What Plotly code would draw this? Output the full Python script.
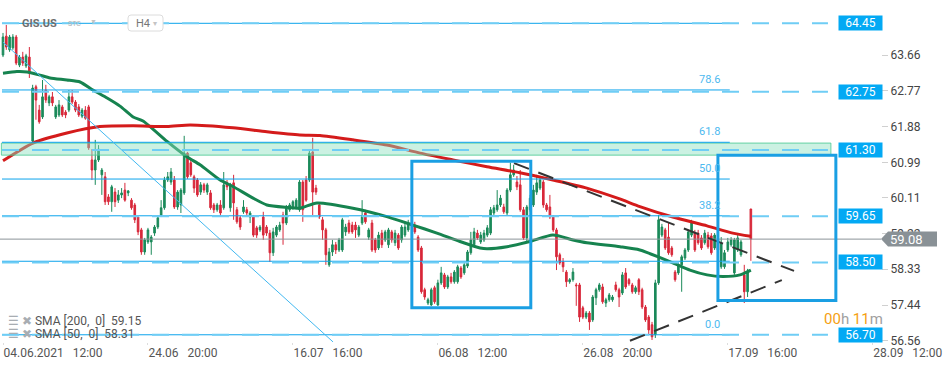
import plotly.graph_objects as go

# ---------------- data ----------------
tick_idx = [0, 44, 88, 132, 176, 220, 264]
NB = "\u00a0\u00a0\u00a0"
tick_text = ["04.06.2021" + NB + "12:00", "24.06" + NB + "20:00", "16.07" + NB + "16:00",
             "06.08" + NB + "12:00", "26.08" + NB + "20:00", "17.09" + NB + "16:00",
             "28.09" + NB + "12:00"]
y_ticks = [56.56, 57.44, 58.33, 59.22, 60.11, 60.99, 61.88, 62.77, 63.66]

opens = [63.66, 64.13, 63.79, 63.84, 64.11, 63.41, 63.61, 63.39, 63.61, 61.52,
         62.87, 62.29, 62.12, 62.79, 62.47, 62.62, 62.12, 62.17, 62.37, 62.24,
         62.29, 62.62, 62.49, 62.37, 62.14, 62.29, 62.37, 61.05, 60.80, 61.05,
         60.68, 60.63, 60.13, 60.01, 60.25, 60.05, 60.18, 60.30, 60.23, 60.05,
         59.93, 59.63, 59.31, 58.76, 59.01, 59.01, 59.23, 59.38, 59.68, 59.86,
         60.55, 60.50, 60.55, 59.88, 59.93, 60.23, 61.22, 60.98, 60.63, 60.55,
         60.25, 60.43, 60.25, 60.23, 59.93, 59.81, 59.93, 59.86, 60.48, 59.86,
         60.48, 59.81, 59.61, 59.76, 59.81, 59.63, 59.63, 59.36, 59.31, 59.63,
         59.38, 59.23, 58.74, 59.18, 59.31, 59.68, 59.48, 59.81, 59.86, 59.88,
         59.81, 60.50, 60.55, 60.55, 61.25, 60.35, 59.93, 59.56, 59.31, 58.44,
         58.76, 58.94, 58.81, 58.81, 59.26, 59.48, 59.43, 59.43, 59.18, 59.48,
         59.73, 59.13, 59.48, 59.06, 58.86, 59.23, 59.06, 58.94, 59.26, 58.99,
         59.18, 59.06, 59.18, 59.31, 59.41, 59.43, 59.13, 58.86, 57.82, 57.49,
         57.44, 57.87, 57.44, 57.99, 58.19, 57.89, 58.14, 58.02, 58.02, 58.36,
         58.24, 58.41, 58.74, 58.94, 59.23, 59.01, 59.06, 59.18, 59.23, 59.73,
         59.81, 59.93, 59.88, 59.73, 60.30, 60.68, 60.50, 60.43, 59.81, 59.11,
         59.81, 59.93, 60.25, 60.35, 60.50, 59.93, 59.88, 59.63, 59.31, 58.69,
         58.51, 58.26, 58.02, 58.07, 57.94, 57.94, 57.37, 57.14, 57.24, 57.07,
         57.62, 57.82, 57.89, 57.49, 57.57, 57.57, 57.94, 57.82, 57.74, 58.24,
         58.07, 57.94, 57.77, 58.07, 57.82, 57.39, 57.14, 56.95, 56.70, 57.99,
         59.18, 59.31, 59.13, 58.86, 58.26, 58.24, 58.44, 58.61, 58.81, 59.18,
         59.23, 59.23, 59.11, 58.99, 59.18, 59.16, 58.86, 59.06, 58.39, 58.39,
         58.81, 58.94, 58.24, 58.81, 58.69, 58.19, 57.77, 59.83]
highs = [64.21, 64.41, 64.16, 64.18, 64.16, 63.66, 63.74, 63.69, 63.86, 62.92,
         62.92, 62.42, 63.04, 62.92, 62.67, 62.74, 62.42, 62.54, 62.42, 62.29,
         62.79, 62.79, 62.54, 62.44, 62.34, 62.39, 62.42, 61.32, 61.55, 61.42,
         60.85, 60.75, 60.20, 60.43, 60.35, 60.30, 60.35, 60.48, 60.30, 60.10,
         59.98, 59.68, 59.36, 59.11, 59.36, 59.18, 59.43, 59.66, 60.05, 60.63,
         60.75, 60.85, 60.65, 60.30, 60.35, 61.65, 61.25, 61.10, 60.68, 60.60,
         60.50, 60.48, 60.48, 60.30, 59.98, 59.98, 60.05, 60.75, 60.55, 60.48,
         60.68, 59.88, 59.66, 60.05, 59.88, 59.78, 59.68, 59.41, 59.43, 59.76,
         59.43, 59.31, 59.36, 59.43, 59.51, 59.76, 59.93, 59.98, 60.05, 60.10,
         60.55, 60.55, 60.65, 61.30, 61.60, 60.43, 59.98, 59.63, 59.36, 58.86,
         59.06, 59.01, 59.11, 59.61, 59.46, 59.56, 59.51, 59.51, 59.43, 60.05,
         59.81, 59.36, 59.56, 59.11, 59.26, 59.31, 59.31, 59.36, 59.31, 59.31,
         59.23, 59.43, 59.48, 59.56, 59.56, 59.51, 59.18, 58.91, 57.87, 57.62,
         57.87, 57.92, 58.07, 58.39, 58.24, 58.19, 58.24, 58.31, 58.44, 58.41,
         58.51, 58.81, 59.26, 59.36, 59.31, 59.26, 59.31, 59.43, 59.88, 59.93,
         60.30, 60.18, 59.96, 60.35, 60.98, 60.93, 60.65, 60.80, 59.88, 59.93,
         60.18, 60.43, 60.68, 60.63, 60.55, 59.98, 60.18, 59.68, 59.36, 58.74,
         58.61, 58.31, 58.11, 58.36, 57.99, 57.99, 57.42, 57.29, 57.29, 57.69,
         57.87, 57.99, 57.97, 57.62, 57.74, 57.69, 58.02, 57.87, 58.26, 58.36,
         58.11, 57.99, 57.92, 58.11, 57.87, 57.44, 57.19, 57.02, 58.07, 59.68,
         59.46, 59.36, 59.48, 58.91, 58.31, 58.51, 58.69, 58.86, 59.31, 59.56,
         59.31, 59.31, 59.18, 59.31, 59.26, 59.23, 59.23, 59.11, 59.13, 58.81,
         59.11, 59.13, 59.11, 59.18, 59.06, 58.44, 58.34, 59.83]
lows = [63.61, 63.79, 63.74, 63.79, 63.41, 63.36, 63.39, 63.34, 63.09, 61.47,
        62.05, 61.95, 62.07, 62.47, 62.39, 62.39, 62.07, 62.12, 62.12, 62.09,
        62.24, 62.44, 62.24, 62.12, 62.09, 62.05, 61.30, 60.55, 60.43, 61.00,
        60.18, 59.93, 59.93, 59.76, 59.88, 59.98, 60.10, 60.01, 60.15, 59.81,
        59.48, 59.18, 58.69, 58.69, 58.96, 58.69, 59.16, 59.33, 59.63, 59.81,
        60.50, 60.43, 59.83, 59.81, 59.73, 60.18, 60.58, 60.63, 60.23, 60.13,
        60.18, 60.23, 60.18, 59.81, 59.73, 59.76, 59.66, 59.81, 60.30, 59.76,
        59.56, 59.46, 59.31, 59.71, 59.66, 59.48, 59.13, 59.11, 59.26, 59.06,
        59.16, 58.51, 58.66, 59.13, 59.26, 58.94, 59.43, 59.76, 59.81, 59.83,
        59.76, 59.51, 60.01, 60.50, 59.68, 60.18, 59.58, 59.06, 58.44, 58.39,
        58.66, 58.71, 58.76, 58.76, 59.16, 59.21, 59.21, 59.11, 59.13, 59.43,
        59.46, 59.06, 58.76, 58.74, 58.81, 58.86, 59.01, 58.86, 58.99, 58.91,
        58.81, 58.99, 59.13, 59.26, 59.33, 59.21, 58.76, 57.72, 57.57, 57.44,
        57.42, 57.47, 57.42, 57.94, 57.84, 57.84, 57.97, 57.97, 57.97, 58.09,
        58.19, 58.36, 58.69, 58.89, 59.06, 58.96, 59.01, 59.13, 59.18, 59.68,
        59.76, 59.88, 59.71, 59.68, 60.25, 60.63, 60.30, 59.76, 59.06, 59.01,
        59.76, 59.88, 60.18, 60.30, 59.86, 59.76, 59.58, 59.26, 58.31, 58.44,
        58.26, 57.89, 57.97, 58.02, 57.42, 57.02, 57.09, 57.09, 56.82, 57.02,
        57.44, 57.77, 57.47, 57.39, 57.52, 57.52, 57.77, 57.39, 57.69, 57.84,
        57.92, 57.72, 57.72, 57.69, 57.34, 57.02, 56.70, 56.57, 56.62, 57.94,
        59.13, 58.81, 58.69, 58.64, 58.02, 58.19, 57.77, 58.56, 58.76, 59.13,
        58.76, 58.94, 58.81, 58.94, 58.84, 58.69, 58.81, 58.61, 58.34, 58.34,
        58.76, 58.89, 58.19, 58.76, 58.64, 57.49, 57.64, 58.54]
closes = [64.11, 63.86, 64.11, 64.11, 63.46, 63.61, 63.46, 63.64, 63.21, 62.84,
          62.54, 62.00, 62.62, 62.54, 62.62, 62.47, 62.37, 62.42, 62.17, 62.17,
          62.62, 62.49, 62.29, 62.17, 62.29, 62.09, 61.35, 60.80, 61.05, 61.32,
          60.80, 60.01, 60.01, 60.38, 60.01, 60.18, 60.23, 60.05, 60.28, 59.86,
          59.56, 59.26, 58.76, 59.06, 59.31, 59.13, 59.38, 59.61, 59.86, 60.55,
          60.63, 60.75, 59.88, 60.25, 60.30, 61.22, 60.63, 60.68, 60.35, 60.18,
          60.43, 60.30, 60.43, 59.86, 59.81, 59.93, 59.73, 60.43, 60.38, 60.43,
          59.98, 59.51, 59.38, 59.88, 59.73, 59.73, 59.18, 59.18, 59.38, 59.18,
          59.23, 58.74, 59.26, 59.38, 59.43, 59.48, 59.86, 59.93, 60.01, 60.05,
          60.50, 59.81, 60.05, 61.22, 60.25, 60.25, 59.63, 59.31, 58.69, 58.76,
          58.94, 58.81, 59.06, 59.56, 59.38, 59.26, 59.26, 59.31, 59.38, 59.63,
          59.51, 59.31, 58.81, 58.81, 59.18, 58.94, 59.26, 59.31, 59.06, 59.23,
          58.86, 59.38, 59.38, 59.48, 59.48, 59.26, 58.81, 57.77, 57.64, 57.57,
          57.82, 57.52, 57.99, 58.24, 57.89, 58.14, 58.02, 58.26, 58.39, 58.14,
          58.44, 58.76, 59.06, 59.26, 59.11, 59.18, 59.23, 59.36, 59.81, 59.86,
          59.93, 60.10, 59.76, 60.30, 60.68, 60.80, 60.38, 59.81, 59.11, 59.88,
          60.10, 60.30, 60.48, 60.55, 59.93, 59.81, 59.63, 59.31, 58.64, 58.49,
          58.39, 58.02, 58.07, 58.26, 57.92, 57.14, 57.14, 57.24, 57.02, 57.64,
          57.82, 57.94, 57.52, 57.57, 57.69, 57.64, 57.82, 57.64, 58.19, 57.89,
          57.97, 57.77, 57.87, 57.77, 57.39, 57.07, 56.82, 56.65, 57.99, 59.56,
          59.38, 58.86, 58.74, 58.69, 58.07, 58.44, 58.64, 58.81, 59.26, 59.51,
          58.81, 58.99, 58.86, 59.23, 58.89, 58.74, 59.18, 58.81, 58.99, 58.74,
          59.01, 59.06, 59.06, 59.11, 59.01, 57.77, 58.26, 59.08]

sma200_x = [0, 9.1, 19.4, 29.4, 39.5, 49.8, 56.8, 69.8, 80.1, 90.1, 96.2, 106.2, 116.5,
            126.6, 136.6, 146.9, 156.9, 166.9, 177.2, 187.2, 193.3, 203.3, 213.7, 221.5, 227]
sma200_y = [61.03, 61.47, 61.72, 61.88, 61.90, 61.88, 61.92, 61.85, 61.75, 61.67, 61.66, 61.55, 61.42,
            61.22, 61.05, 60.88, 60.73, 60.55, 60.35, 60.08, 59.89, 59.63, 59.41, 59.23, 59.15]
sma50_x = [0, 4.2, 7.3, 11.2, 14.3, 19.4, 23.4, 27.3, 31.6, 35.5, 39.5, 42.5, 49.8, 55.8, 59.8,
           65.9, 69.8, 75.9, 80.1, 86.2, 90.1, 95.3, 106.2, 116.5, 124.4, 131.7, 138.7, 144.8,
           146.9, 153, 159.9, 166.9, 173, 177.2, 187.3, 193.3, 203.3, 208.5, 213.7, 218.5, 223.7, 227]
sma50_y = [63.21, 63.25, 63.24, 63.16, 63.09, 63.04, 62.99, 62.79, 62.59, 62.39, 62.12, 62.02, 61.51,
           61.13, 60.93, 60.55, 60.39, 60.10, 59.93, 59.87, 59.85, 59.98, 59.85, 59.64, 59.43, 59.23,
           59.02, 58.86, 58.84, 58.89, 59.02, 59.18, 59.06, 58.99, 58.89, 58.81, 58.49, 58.31, 58.19,
           58.15, 58.19, 58.31]

sma200_last = 59.15
sma50_last = 58.31
last_price = 59.08

fib_low, fib_high = 56.70, 64.45
fib_ratios = [0.0, 23.6, 38.2, 50.0, 61.8, 78.6, 100.0]
fib_shown = ["0.0", "", "38.2", "50.0", "61.8", "78.6", ""]
fib_x = [-0.3, 220.6]

level_prices = [64.45, 62.75, 61.30, 59.65, 58.50, 56.70]
level_x = [-0.3, 250.4]

zone_x = [-0.5, 251.3]
zone_y = [61.17, 61.47]

trend_x = [0, 100.2]
trend_y = [63.98, 56.52]

tri_upper_x = [155.1, 240.1]
tri_upper_y = [60.97, 58.29]
tri_lower_x = [190.3, 236.4]
tri_lower_y = [56.55, 58.06]

box1 = dict(x=[124.1, 160.2], y=[57.37, 61.02])
box2 = dict(x=[217.0, 252.8], y=[57.55, 61.17])

# ---------------- styling / layout constants ----------------
W, H = 950, 367
ML, MR, MT, MB = 0, 69, 0, 25
PW, PH = W - ML - MR, H - MT - MB
Y_RANGE = [56.52, 65.03]
X_RANGE = [-0.91, 266.5]
GREEN = "#1b8a5a"
RED = "#d8283a"
FIB_C = "#0ba3ec"
DASH_C = "#6fcdf5"
BOX_C = "#1a9fe3"
FONT = "Roboto, sans-serif"


def px(xp):
    return xp / PW


def py(yp):
    return 1 - yp / PH


ppu = PH / (Y_RANGE[1] - Y_RANGE[0])

fig = go.Figure()
x_idx = list(range(len(opens)))
fig.add_trace(go.Candlestick(
    x=x_idx, open=opens, high=highs, low=lows, close=closes,
    increasing=dict(line=dict(color=GREEN, width=1), fillcolor=GREEN),
    decreasing=dict(line=dict(color=RED, width=1), fillcolor=RED),
    whiskerwidth=0, showlegend=False, hoverinfo="skip"))
fig.add_trace(go.Scatter(x=sma50_x, y=sma50_y, mode="lines",
                         line=dict(color="#16834f", width=3, shape="spline", smoothing=0.6),
                         showlegend=False, hoverinfo="skip"))
fig.add_trace(go.Scatter(x=sma200_x, y=sma200_y, mode="lines",
                         line=dict(color="#d41b1b", width=3, shape="spline", smoothing=0.6),
                         showlegend=False, hoverinfo="skip"))

shapes = []
# support zone (semi-transparent, above)
shapes.append(dict(type="rect", xref="x", yref="y", x0=zone_x[0], x1=zone_x[1], y0=zone_y[0], y1=zone_y[1],
                   fillcolor="rgba(140,225,190,0.45)", line=dict(color="rgba(70,200,145,0.8)", width=1),
                   layer="above"))
# fib solid lines
for r in fib_ratios:
    v = fib_low + r / 100.0 * (fib_high - fib_low)
    shapes.append(dict(type="line", xref="x", yref="y", x0=fib_x[0], x1=fib_x[1], y0=v, y1=v,
                       line=dict(color=FIB_C, width=1), layer="above"))
# dashed levels
for v in level_prices:
    shapes.append(dict(type="line", xref="x", yref="y", x0=level_x[0], x1=level_x[1], y0=v, y1=v,
                       line=dict(color=DASH_C, width=2, dash="17px,13px"), layer="above"))
# current price line
shapes.append(dict(type="line", xref="paper", yref="y", x0=0, x1=1, y0=last_price, y1=last_price,
                   line=dict(color="#8c9499", width=1), layer="above"))
# trend line
shapes.append(dict(type="line", xref="x", yref="y", x0=trend_x[0], x1=trend_x[1], y0=trend_y[0], y1=trend_y[1],
                   line=dict(color="#42b8f0", width=1), layer="above"))
# triangle lines
for xs, ys in [(tri_upper_x, tri_upper_y), (tri_lower_x, tri_lower_y)]:
    shapes.append(dict(type="line", xref="x", yref="y", x0=xs[0], x1=xs[1], y0=ys[0], y1=ys[1],
                       line=dict(color="#333333", width=2, dash="16px,10px"), layer="above"))
# blue boxes
for b in [box1, box2]:
    shapes.append(dict(type="rect", xref="x", yref="y", x0=b["x"][0], x1=b["x"][1], y0=b["y"][0], y1=b["y"][1],
                       line=dict(color=BOX_C, width=3), fillcolor="rgba(0,0,0,0)", layer="above"))
# gray price tag (arrow + box)
h = 7.5 / ppu
xt, xb, xr = px(881), px(888), px(937)
shapes.append(dict(type="path", xref="paper", yref="y",
                   path=f"M {xt},{last_price} L {xb},{last_price + h} L {xr},{last_price + h} "
                        f"L {xr},{last_price - h} L {xb},{last_price - h} Z",
                   fillcolor="#899196", line=dict(width=0), layer="above"))
# H4 rounded box
x0, x1, y0, y1 = px(128), px(163), py(31), py(15)
rx, ry = px(3), 3 / PH
shapes.append(dict(type="path", xref="paper", yref="paper",
                   path=(f"M {x0 + rx},{y1} L {x1 - rx},{y1} Q {x1},{y1} {x1},{y1 - ry} L {x1},{y0 + ry} "
                         f"Q {x1},{y0} {x1 - rx},{y0} L {x0 + rx},{y0} Q {x0},{y0} {x0},{y0 + ry} "
                         f"L {x0},{y1 - ry} Q {x0},{y1} {x0 + rx},{y1} Z"),
                   fillcolor="white", line=dict(color="#dcdcdc", width=1), layer="above"))

ann = []
# level price boxes
for v in level_prices:
    ann.append(dict(xref="paper", yref="y", x=px(838), y=v, xanchor="left", yanchor="middle",
                    text=f"{v:.2f}", showarrow=False, bgcolor="#03a9f4", width=39, height=10, borderpad=2,
                    font=dict(color="white", size=12, family=FONT)))
# current price text
ann.append(dict(xref="paper", yref="y", x=px(888), y=last_price, xanchor="left", yanchor="middle",
                text=f"{last_price:.2f}", showarrow=False, font=dict(color="white", size=13, family=FONT)))
# fib labels
for r, lab in zip(fib_ratios, fib_shown):
    if not lab:
        continue
    v = fib_low + r / 100.0 * (fib_high - fib_low)
    ann.append(dict(xref="paper", yref="y", x=px(722), y=v, xanchor="right", yanchor="bottom", yshift=2,
                    text=lab, showarrow=False, font=dict(color="#4db9ef", size=11, family=FONT)))
# header
ann.append(dict(xref="paper", yref="paper", x=px(20), y=py(23), xanchor="left", yanchor="middle",
                text="<b>GIS.US</b>", showarrow=False, font=dict(color="#6e6e6e", size=11, family=FONT)))
ann.append(dict(xref="paper", yref="paper", x=px(66), y=py(24), xanchor="left", yanchor="middle",
                text="STC", showarrow=False, font=dict(color="#b0b0b0", size=7, family=FONT)))
ann.append(dict(xref="paper", yref="paper", x=px(88), y=py(22), xanchor="left", yanchor="middle",
                text="▼", showarrow=False, font=dict(color="#c4c4c4", size=7, family=FONT)))
ann.append(dict(xref="paper", yref="paper", x=px(134), y=py(23), xanchor="left", yanchor="middle",
                text="H4", showarrow=False, font=dict(color="#777777", size=11, family=FONT)))
ann.append(dict(xref="paper", yref="paper", x=px(151), y=py(23), xanchor="left", yanchor="middle",
                text="▾", showarrow=False, font=dict(color="#c4c4c4", size=8, family=FONT)))
# indicator legend
icons = '<span style="color:#a8adb2">☰ ✖</span>'
ann.append(dict(xref="paper", yref="paper", x=px(6), y=py(321), xanchor="left", yanchor="middle",
                text=icons + "\u00a0SMA\u00a0[200,\u00a0\u00a00]\u00a0\u00a0" + f"{sma200_last:.2f}",
                showarrow=False, font=dict(color="#555555", size=12, family=FONT)))
ann.append(dict(xref="paper", yref="paper", x=px(6), y=py(334), xanchor="left", yanchor="middle",
                text=icons + "\u00a0SMA\u00a0[50,\u00a0\u00a00]\u00a0\u00a0" + f"{sma50_last:.2f}",
                showarrow=False, font=dict(color="#555555", size=12, family=FONT)))
# timer
ann.append(dict(xref="paper", yref="paper", x=px(822), y=py(319), xanchor="left", yanchor="middle",
                text='<span style="color:#f5a013">00</span><span style="color:#a0a0a0">h</span>'
                     '<span style="color:#f5a013"> 11</span><span style="color:#a0a0a0">m</span>',
                showarrow=False, font=dict(size=15, family=FONT)))

fig.update_layout(
    width=W, height=H, margin=dict(l=ML, r=MR, t=MT, b=MB),
    paper_bgcolor="white", plot_bgcolor="white",
    font=dict(family=FONT, color="#555"),
    showlegend=False, shapes=shapes, annotations=ann,
    xaxis=dict(range=X_RANGE, rangeslider=dict(visible=False), showgrid=False, zeroline=False,
               showline=False, tickvals=tick_idx, ticktext=tick_text, ticks="outside", ticklen=2,
               tickcolor="#dddddd", ticklabelposition="outside right",
               tickfont=dict(size=12, color="#555", family=FONT), automargin=False, fixedrange=True),
    yaxis=dict(range=Y_RANGE, side="right", showgrid=False, zeroline=False, showline=False,
               tickvals=y_ticks, ticktext=[f"{v:.2f}" for v in y_ticks], ticks="outside", ticklen=6,
               tickcolor="#d0d0d0", tickfont=dict(size=12, color="#444", family=FONT),
               automargin=False, fixedrange=True),
    boxgap=0.3, boxgroupgap=0.3,
)

fig.write_html("out.html")
